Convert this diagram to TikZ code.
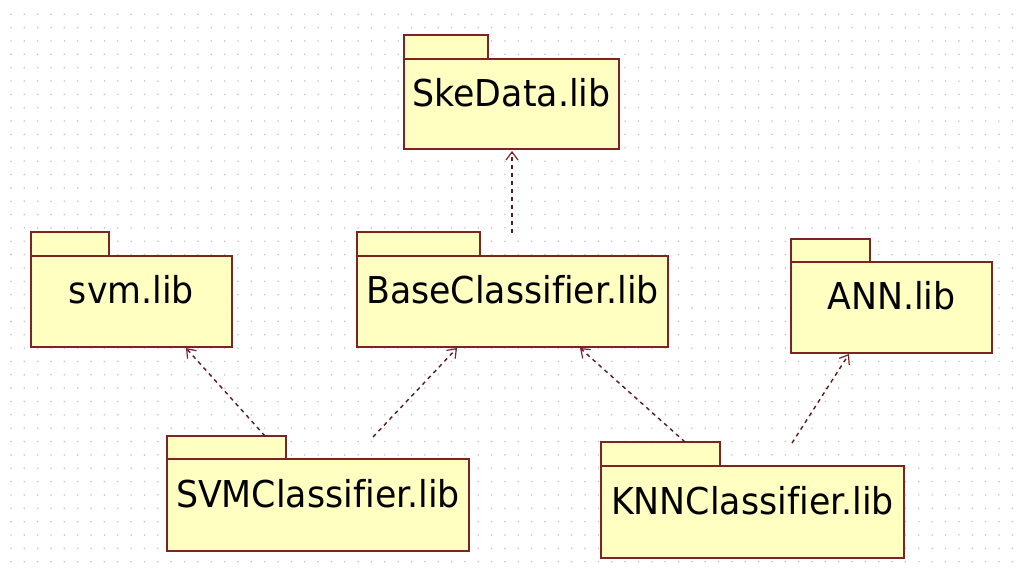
\documentclass[tikz,border=0pt]{standalone}
\usepackage{fontspec}
\setmainfont{DejaVu Sans}[FakeStretch=0.94,Ligatures=CommonOff]
\usetikzlibrary{arrows.meta,calc}
\definecolor{pkgfill}{RGB}{255,255,194}
\definecolor{pkgedge}{RGB}{125,35,35}
\definecolor{deplink}{RGB}{85,28,28}
\definecolor{griddot}{RGB}{200,200,200}
\tikzset{
  pkgbody/.style={draw=pkgedge, fill=pkgfill, line width=1.6pt, anchor=north west,
    inner sep=0pt, outer sep=0pt, text height=28pt, text depth=24pt,
    font=\fontsize{37}{44}\selectfont},
  pkgtab/.style={draw=pkgedge, fill=pkgfill, line width=1.6pt},
  depends/.style={draw=deplink, line width=1.4pt, dash pattern=on 4pt off 4pt,
    -{Straight Barb[length=8pt,width=12pt,line width=1.2pt,color=pkgedge]}}
}
\begin{document}
\begin{tikzpicture}[x=1pt,y=-1pt]
\useasboundingbox (0,0) rectangle (1022,570);
\fill[white] (0,0) rectangle (1022,570);
% dotted drawing grid
\foreach \i in {0,...,76}{
  \foreach \j in {0,...,41}{
    \fill[griddot] (11+13.35*\i, 14.3+13.35*\j) circle (0.9);
  }
}
% packages: body node, then its tab on the upper left
\node[pkgbody, minimum width=215, minimum height=90] (ske) at (404,59) {SkeData.lib};
\draw[pkgtab] (ske.north west) rectangle ++(84,-24);

\node[pkgbody, minimum width=201, minimum height=91] (svm) at (31,256) {svm.lib};
\draw[pkgtab] (svm.north west) rectangle ++(78,-24);

\node[pkgbody, minimum width=311, minimum height=91] (base) at (357,256) {BaseClassifier.lib};
\draw[pkgtab] (base.north west) rectangle ++(123,-24);

\node[pkgbody, minimum width=201, minimum height=91] (ann) at (791,262) {ANN.lib};
\draw[pkgtab] (ann.north west) rectangle ++(79,-23);

\node[pkgbody, minimum width=302, minimum height=92] (svmc) at (167,459) {SVMClassifier.lib};
\draw[pkgtab] (svmc.north west) rectangle ++(119,-23);

\node[pkgbody, minimum width=303, minimum height=92] (knn) at (601,466) {KNNClassifier.lib};
\draw[pkgtab] (knn.north west) rectangle ++(119,-24);

% dependency arrows
\draw[depends] ($(base.north west)+(155,-23)$) -- ($(ske.south west)+(108,2)$);
\draw[depends] ($(svmc.north west)+(98,-23)$) -- ($(svm.south west)+(155,1)$);
\draw[depends] ($(svmc.north west)+(206,-22)$) -- ($(base.south west)+(100,1)$);
\draw[depends] ($(knn.north west)+(84,-24)$) -- ($(base.south west)+(223,1)$);
\draw[depends] ($(knn.north west)+(191,-23)$) -- ($(ann.south west)+(58,1)$);
\end{tikzpicture}
\end{document}
